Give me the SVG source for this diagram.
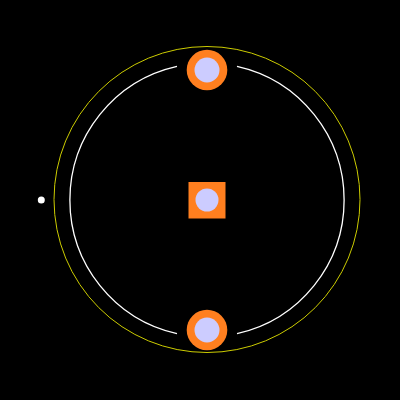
<svg xmlns="http://www.w3.org/2000/svg" width="400" height="400" viewBox="0 0 400 400">
<style>
.pad{fill:#FF7F1F}
.hole{fill:#CCCCFF}
.silk{fill:none;stroke:#FFFFFF;stroke-width:1.3}
.crt{fill:none;stroke:#CCCC00;stroke-width:1}
</style>
<rect width="400" height="400" fill="#000000"/>
<g id="outline">
<circle class="crt" cx="207" cy="199.5" r="153"/>
<path class="silk" d="M237,66.3 A137,137 0 0 1 237,333.7"/>
<path class="silk" d="M177,333.7 A137,137 0 0 1 177,66.3"/>
<circle cx="41.3" cy="200" r="3.5" fill="#FFFFFF"/>
</g>
<g id="pad1">
<circle class="pad" cx="207" cy="70" r="20.3"/>
<circle class="hole" cx="207" cy="70" r="12.5"/>
</g>
<g id="pad2">
<rect class="pad" x="188.5" y="182" width="37" height="36.5"/>
<circle class="hole" cx="207" cy="200" r="11.5"/>
</g>
<g id="pad3">
<circle class="pad" cx="207" cy="330" r="20.3"/>
<circle class="hole" cx="207" cy="330" r="12.5"/>
</g>
</svg>
